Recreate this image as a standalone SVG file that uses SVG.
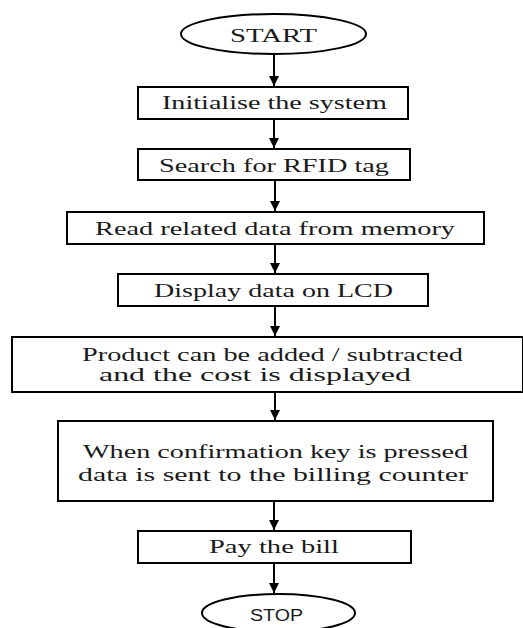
<svg xmlns="http://www.w3.org/2000/svg" width="523" height="628" viewBox="0 0 523 628">
<defs>
<style>
.box{fill:#fff;stroke:#000;stroke-width:2}
.t{font-family:"Liberation Serif","Times New Roman",serif;font-size:19px;fill:#1a1a1a;text-anchor:middle}
.s{font-family:"Liberation Sans",Arial,sans-serif;font-size:16px;fill:#1a1a1a;text-anchor:middle}
.c{stroke:#000;stroke-width:2;fill:none;marker-end:url(#ah)}
</style>
<marker id="ah" viewBox="0 0 10 10" refX="10" refY="5" markerWidth="5" markerHeight="5" markerUnits="strokeWidth" orient="auto">
<path d="M0,0L10,5L0,10z" fill="#000"/>
</marker>
</defs>
<rect width="523" height="628" fill="#fff"/>
<g id="connectors">
<line class="c" x1="274" y1="54" x2="274" y2="86"/>
<line class="c" x1="274" y1="119" x2="274" y2="148"/>
<line class="c" x1="275" y1="180" x2="275" y2="211"/>
<line class="c" x1="275" y1="244" x2="275" y2="273"/>
<line class="c" x1="275" y1="306" x2="275" y2="336"/>
<line class="c" x1="275" y1="392" x2="275" y2="420"/>
<line class="c" x1="274" y1="501" x2="274" y2="530"/>
<line class="c" x1="274" y1="563" x2="274" y2="593"/>
</g>
<g id="start">
<ellipse class="box" cx="273.5" cy="34" rx="92.5" ry="20"/>
<text class="t" x="273.5" y="42" textLength="87" lengthAdjust="spacingAndGlyphs">START</text>
</g>
<g id="init">
<rect class="box" x="138" y="87" width="270" height="32"/>
<text class="t" x="274.5" y="109" textLength="225" lengthAdjust="spacingAndGlyphs">Initialise the system</text>
</g>
<g id="search">
<rect class="box" x="138" y="149" width="272" height="31"/>
<text class="t" x="274" y="172" textLength="230" lengthAdjust="spacingAndGlyphs">Search for RFID tag</text>
</g>
<g id="read">
<rect class="box" x="67" y="212" width="417" height="32"/>
<text class="t" x="275" y="235" textLength="360" lengthAdjust="spacingAndGlyphs">Read related data from memory</text>
</g>
<g id="display">
<rect class="box" x="118" y="274" width="310" height="32"/>
<text class="t" x="273.5" y="297" textLength="239" lengthAdjust="spacingAndGlyphs">Display data on LCD</text>
</g>
<g id="product">
<rect class="box" x="12" y="337" width="511" height="55"/>
<text class="t" x="272.5" y="361" textLength="381" lengthAdjust="spacingAndGlyphs">Product can be added / subtracted</text>
<text class="t" x="255" y="381" textLength="312" lengthAdjust="spacingAndGlyphs">and the cost is displayed</text>
</g>
<g id="confirm">
<rect class="box" x="58" y="421" width="435" height="80"/>
<text class="t" x="275.5" y="458" textLength="385" lengthAdjust="spacingAndGlyphs">When confirmation key is pressed</text>
<text class="t" x="273" y="481" textLength="390" lengthAdjust="spacingAndGlyphs">data is sent to the billing counter</text>
</g>
<g id="pay">
<rect class="box" x="138" y="531" width="273" height="32"/>
<text class="t" x="274" y="553" textLength="130" lengthAdjust="spacingAndGlyphs">Pay the bill</text>
</g>
<g id="stop">
<ellipse class="box" cx="278.5" cy="613" rx="76.5" ry="19"/>
<text class="s" x="276.5" y="621" textLength="53" lengthAdjust="spacingAndGlyphs">STOP</text>
</g>
</svg>
